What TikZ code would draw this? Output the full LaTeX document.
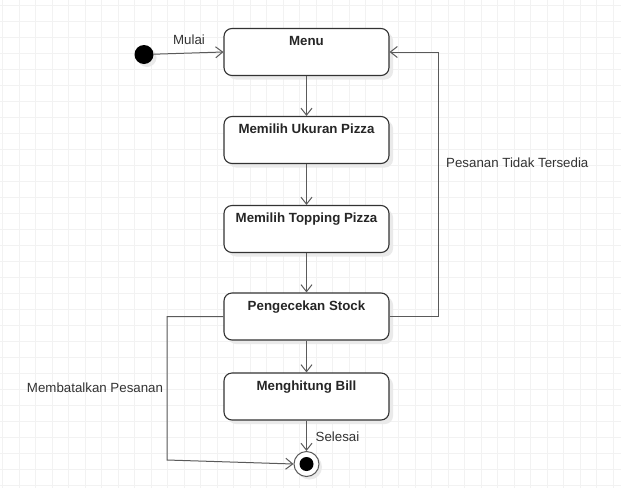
\documentclass[tikz,border=0pt]{standalone}
\usepackage{fontspec}
\setmainfont{Liberation Sans}
\usetikzlibrary{arrows.meta,shadows,calc}
\definecolor{gridc}{HTML}{F2F2F2}
\definecolor{linec}{HTML}{5A5A5A}
\definecolor{boxc}{HTML}{333333}
\definecolor{txtc}{HTML}{333333}
\definecolor{shadc}{HTML}{EAEAEA}
\begin{document}
\begin{tikzpicture}[x=1pt,y=-1pt,
  statebox/.style={draw=boxc, line width=1.1pt, fill=white, rounded corners=8pt,
    minimum width=165pt, minimum height=47pt, inner ysep=4pt,
    text height=13pt, text depth=26pt, font=\fontsize{13.3}{15}\selectfont\bfseries, text=black!85,
    drop shadow={shadow xshift=4pt, shadow yshift=-4pt, fill=shadc, opacity=1}},
  conn/.style={draw=linec, line width=1pt},
  arr/.style={conn, -{Straight Barb[length=7pt,width=11pt,line width=1pt]}},
  lbl/.style={font=\fontsize{13.3}{15}\selectfont, text=txtc, inner sep=0pt}]
\useasboundingbox (0,0) rectangle (621,488);
\fill[white] (0,0) rectangle (621,488);
% grid
\foreach \i in {0,...,37} {\draw[gridc, line width=1pt] (2.5+16.5*\i,0) -- (2.5+16.5*\i,488);}
\foreach \j in {0,...,30} {\draw[gridc, line width=1pt] (0,5+16*\j) -- (621,5+16*\j);}
% nodes
\node[circle, fill=black, minimum size=19pt, inner sep=0pt,
  drop shadow={shadow xshift=3pt, shadow yshift=-3pt, fill=shadc, opacity=1}] (start) at (144,54.5) {};
\node[statebox] (menu) at (306.5,52) {Menu};
\node[statebox] (ukuran) at (306.5,140) {Memilih Ukuran Pizza};
\node[statebox] (topping) at (306.5,229) {Memilih Topping Pizza};
\node[statebox] (stock) at (306.5,316.5) {Pengecekan Stock};
\node[statebox] (bill) at (306.5,396.5) {Menghitung Bill};
\node[circle, draw=linec, line width=1pt, fill=white, minimum size=25pt, inner sep=0pt,
  drop shadow={shadow xshift=3pt, shadow yshift=-3pt, fill=shadc, opacity=1}] (final) at (306.5,464) {};
\node[circle, fill=black, minimum size=14pt, inner sep=0pt] (finalin) at (final.center) {};
% connectors
\draw[arr] (start) -- (menu.west);
\draw[arr] (menu) -- (ukuran);
\draw[arr] (ukuran) -- (topping);
\draw[arr] (topping) -- (stock);
\draw[arr] (stock) -- (bill);
\draw[arr] (bill) -- (final);
\coordinate (r1) at (438,316.5);
\draw[arr] (stock.east) -- (r1) |- (menu.east);
\coordinate (l1) at (167,460);
\draw[arr] (stock.west) -| (l1) -- (final.west);
% labels
\node[lbl] (mulai) at (189,39.5) {Mulai};
\node[lbl, anchor=west] (tidak) at (446,163) {Pesanan Tidak Tersedia};
\node[lbl] (batal) at (95,388) {Membatalkan Pesanan};
\node[lbl, anchor=west] (selesai) at (315.5,437) {Selesai};
\end{tikzpicture}
\end{document}
